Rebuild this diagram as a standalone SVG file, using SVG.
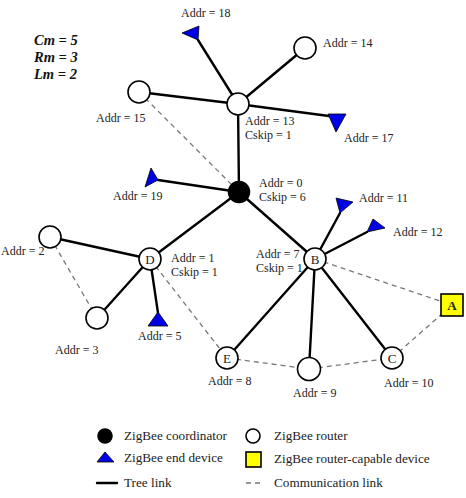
<svg xmlns="http://www.w3.org/2000/svg" width="466" height="498" viewBox="0 0 466 498">
  <style>
    .tree { stroke: #000; stroke-width: 2.4; fill: none; stroke-linecap: round; }
    .comm { stroke: #777; stroke-width: 1.3; fill: none; stroke-dasharray: 5 4; }
    .coord { fill: #000; stroke: #000; stroke-width: 1.5; }
    .router { fill: #fff; stroke: #000; stroke-width: 1.6; }
    .end { fill: #0000e6; stroke: #000; stroke-width: 0.8; stroke-linejoin: round; }
    .capable { fill: #ffff00; stroke: #000; stroke-width: 1.6; }
    .lbl { font-family: "Liberation Serif", "Times New Roman", serif; font-size: 12px; fill: #222; }
    .tag { font-family: "Liberation Serif", "Times New Roman", serif; font-size: 13px; fill: #222; text-anchor: middle; }
    .leg { font-family: "Liberation Serif", "Times New Roman", serif; font-size: 13.2px; fill: #222; }
    .param { font-family: "Liberation Serif", "Times New Roman", serif; font-size: 14.5px; font-weight: bold; font-style: italic; fill: #111; }
  </style>

  <!-- network parameters -->
  <g id="params">
    <text class="param" x="34" y="45">Cm = 5</text>
    <text class="param" x="34" y="62">Rm = 3</text>
    <text class="param" x="34" y="79">Lm = 2</text>
  </g>

  <!-- links: solid = tree, dashed = communication -->
  <g id="connectors">
    <line class="comm" x1="139" y1="92" x2="239" y2="192"/>
    <line class="comm" x1="50" y1="237" x2="97" y2="318"/>
    <line class="comm" x1="150" y1="259" x2="227" y2="358"/>
    <line class="comm" x1="227" y1="358" x2="309" y2="369"/>
    <line class="comm" x1="309" y1="369" x2="392" y2="358"/>
    <line class="comm" x1="392" y1="358" x2="452" y2="305"/>
    <line class="comm" x1="315" y1="259" x2="452" y2="305"/>

    <line class="tree" x1="239" y1="192" x2="238" y2="104"/>
    <line class="tree" x1="239" y1="192" x2="158" y2="180"/>
    <line class="tree" x1="239" y1="192" x2="150" y2="259"/>
    <line class="tree" x1="239" y1="192" x2="315" y2="259"/>
    <line class="tree" x1="238" y1="104" x2="139" y2="92"/>
    <line class="tree" x1="238" y1="104" x2="198" y2="40"/>
    <line class="tree" x1="238" y1="104" x2="305" y2="48"/>
    <line class="tree" x1="238" y1="104" x2="329" y2="116"/>
    <line class="tree" x1="150" y1="259" x2="50" y2="237"/>
    <line class="tree" x1="150" y1="259" x2="97" y2="318"/>
    <line class="tree" x1="150" y1="259" x2="158" y2="313"/>
    <line class="tree" x1="315" y1="259" x2="340" y2="213"/>
    <line class="tree" x1="315" y1="259" x2="367" y2="232"/>
    <line class="tree" x1="315" y1="259" x2="227" y2="358"/>
    <line class="tree" x1="315" y1="259" x2="309" y2="369"/>
    <line class="tree" x1="315" y1="259" x2="392" y2="358"/>
  </g>

  <!-- coordinator -->
  <g id="n0">
    <circle class="coord" cx="239" cy="192" r="10.5"/>
    <text class="lbl" x="259" y="187">Addr = 0</text>
    <text class="lbl" x="259" y="201">Cskip = 6</text>
  </g>

  <!-- routers -->
  <g id="n13">
    <circle class="router" cx="238" cy="104" r="11"/>
    <text class="lbl" x="245" y="125">Addr = 13</text>
    <text class="lbl" x="245" y="139">Cskip = 1</text>
  </g>
  <g id="n15">
    <circle class="router" cx="139" cy="92" r="11"/>
    <text class="lbl" x="96" y="122">Addr = 15</text>
  </g>
  <g id="n14">
    <circle class="router" cx="305" cy="48" r="11"/>
    <text class="lbl" x="323" y="47">Addr = 14</text>
  </g>
  <g id="nD">
    <circle class="router" cx="150" cy="259" r="11"/>
    <text class="tag" x="150" y="264">D</text>
    <text class="lbl" x="171" y="262">Addr = 1</text>
    <text class="lbl" x="171" y="276">Cskip = 1</text>
  </g>
  <g id="n2">
    <circle class="router" cx="50" cy="237" r="11"/>
    <text class="lbl" x="1" y="255">Addr = 2</text>
  </g>
  <g id="n3">
    <circle class="router" cx="97" cy="318" r="11"/>
    <text class="lbl" x="55" y="354">Addr = 3</text>
  </g>
  <g id="nB">
    <circle class="router" cx="315" cy="259" r="11"/>
    <text class="tag" x="315" y="264">B</text>
    <text class="lbl" x="256" y="258">Addr = 7</text>
    <text class="lbl" x="256" y="272">Cskip = 1</text>
  </g>
  <g id="nE">
    <circle class="router" cx="227" cy="358" r="11"/>
    <text class="tag" x="227" y="363">E</text>
    <text class="lbl" x="208" y="385">Addr = 8</text>
  </g>
  <g id="n9">
    <circle class="router" cx="309" cy="369" r="11.5"/>
    <text class="lbl" x="293" y="397">Addr = 9</text>
  </g>
  <g id="nC">
    <circle class="router" cx="392" cy="358" r="11"/>
    <text class="tag" x="392" y="363">C</text>
    <text class="lbl" x="384" y="387">Addr = 10</text>
  </g>

  <!-- router-capable device -->
  <g id="nA">
    <rect class="capable" x="441" y="294" width="22" height="22"/>
    <text class="tag" x="452" y="310" font-weight="bold">A</text>
  </g>

  <!-- end devices -->
  <g id="n18">
    <polygon class="end" points="182,33 199,26 198,40"/>
    <text class="lbl" x="181" y="17">Addr = 18</text>
  </g>
  <g id="n17">
    <polygon class="end" points="328,114 346,114 336,132"/>
    <text class="lbl" x="344" y="142">Addr = 17</text>
  </g>
  <g id="n19">
    <polygon class="end" points="151,168 145,187 158,180"/>
    <text class="lbl" x="113" y="200">Addr = 19</text>
  </g>
  <g id="n11">
    <polygon class="end" points="336,198 353,202 340,213"/>
    <text class="lbl" x="359" y="202">Addr = 11</text>
  </g>
  <g id="n12">
    <polygon class="end" points="373,219 385,228 367,232"/>
    <text class="lbl" x="393" y="236">Addr = 12</text>
  </g>
  <g id="n5">
    <polygon class="end" points="158,312 148,326 168,326"/>
    <text class="lbl" x="138" y="340">Addr = 5</text>
  </g>

  <!-- legend -->
  <g id="legend">
    <circle class="coord" cx="105" cy="436" r="7"/>
    <text class="leg" x="124" y="440">ZigBee coordinator</text>
    <circle class="router" cx="253" cy="436" r="7"/>
    <text class="leg" x="274" y="440">ZigBee router</text>
    <polygon class="end" points="105,452 97,462 114,462"/>
    <text class="leg" x="124" y="462">ZigBee end device</text>
    <rect class="capable" x="246" y="452" width="15" height="15"/>
    <text class="leg" x="274" y="463">ZigBee router-capable device</text>
    <line class="tree" x1="97" y1="483" x2="117" y2="483"/>
    <text class="leg" x="124" y="487">Tree link</text>
    <line class="comm" x1="246" y1="483" x2="263" y2="483" stroke="#555"/>
    <text class="leg" x="274" y="487">Communication link</text>
  </g>
</svg>
